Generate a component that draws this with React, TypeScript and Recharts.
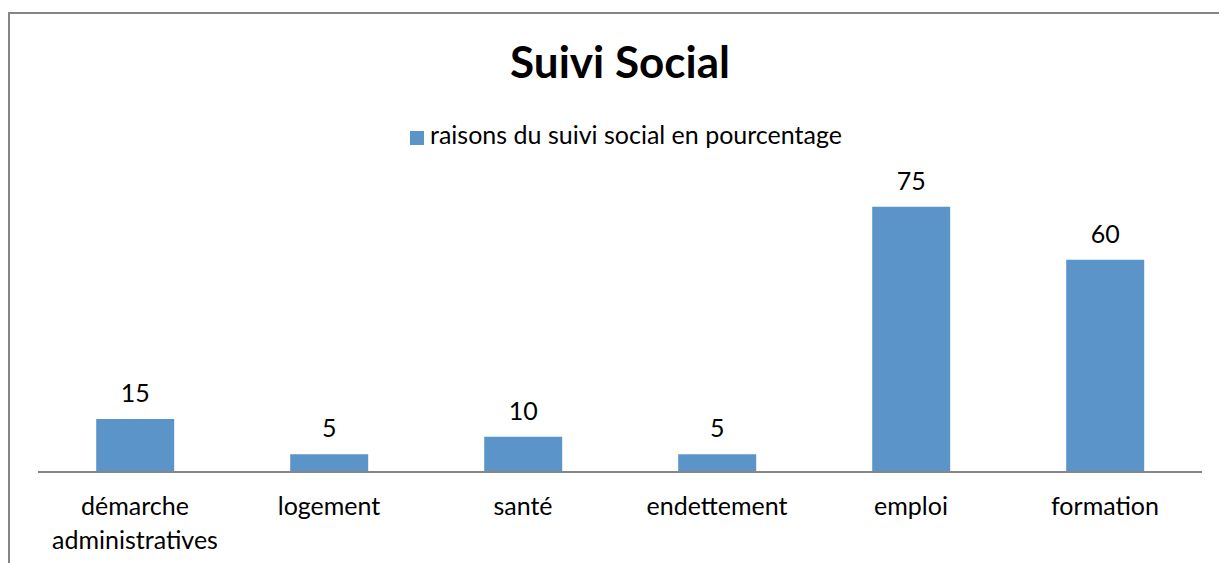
import React from 'react';
import { BarChart, Bar, XAxis, YAxis, Legend, LabelList } from 'recharts';

const categories = ['démarche administratives', 'logement', 'santé', 'endettement', 'emploi', 'formation'];
const values = [15, 5, 10, 5, 75, 60];
const seriesName = 'raisons du suivi social en pourcentage';
const chartTitle = 'Suivi Social';

const data = categories.map((c, i) => ({ name: c, value: values[i] }));

const FONT = 'Lato, "Open Sans", sans-serif';
const BAR_COLOR = '#5B94C8';

// splits long labels on spaces, like the original wrapping
const CategoryTick = (props: any) => {
  const { x, y, payload } = props;
  const label: string = payload.value;
  const lines = label.length > 14 ? label.split(' ') : [label];
  return (
    <text x={x} y={y} textAnchor="middle" fill="#000" fontSize={25} fontFamily={FONT}>
      {lines.map((l, i) => (
        <tspan key={i} x={x} y={y + 35 + i * 34}>{l}</tspan>
      ))}
    </text>
  );
};

export default function App() {
  return (
    <div style={{ position: 'absolute', left: 0, top: 0, width: 1219, height: 563, overflow: 'hidden', background: '#fff' }}>
      <div style={{ position: 'absolute', left: 8, top: 12, width: 1400, height: 800, border: '2px solid #868686', boxSizing: 'border-box' }} />
      <div style={{ position: 'absolute', left: 0, top: 34, width: 1240, textAlign: 'center', fontFamily: FONT, fontWeight: 'bold', fontSize: 44, lineHeight: '54px', color: '#000' }}>
        {chartTitle}
      </div>
      <BarChart
        width={1219}
        height={563}
        data={data}
        margin={{ top: 159, right: 17, left: 38, bottom: 31 }}
        barCategoryGap="30%"
      >
        <XAxis
          dataKey="name"
          height={60}
          axisLine={{ stroke: '#868686', strokeWidth: 2 }}
          tickLine={false}
          tick={<CategoryTick />}
          interval={0}
        />
        <YAxis hide width={0} domain={[0, 80]} />
        <Legend
          verticalAlign="top"
          align="center"
          iconType="square"
          iconSize={14}
          wrapperStyle={{ top: 119, left: 0, width: 1262, fontFamily: FONT, fontSize: 25 }}
          formatter={(v: string) => <span style={{ color: '#000', marginLeft: 2 }}>{v}</span>}
        />
        <Bar dataKey="value" name={seriesName} fill={BAR_COLOR} isAnimationActive={false}>
          <LabelList dataKey="value" position="top" offset={17} fill="#000" fontSize={25} fontFamily={FONT} />
        </Bar>
      </BarChart>
    </div>
  );
}
